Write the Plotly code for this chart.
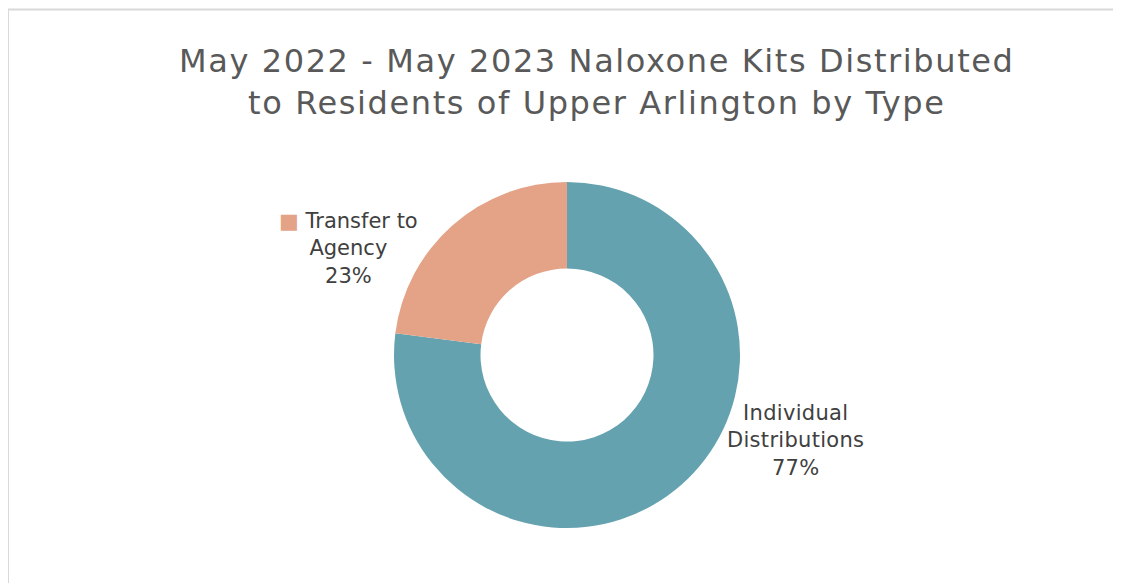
import plotly.graph_objects as go

labels = ["Individual Distributions", "Transfer to Agency"]
label_lines = ["Individual<br>Distributions", "Transfer to<br>Agency"]
values = [77, 23]
colors = ["#64A2AF", "#E4A386"]
title_lines = ["May 2022 - May 2023 Naloxone Kits Distributed",
               "to Residents of Upper Arlington by Type"]

W, H = 1121, 583
OFF = 8  # page body offset
FONT = "DejaVu Sans"


def px(x):
    return (x - OFF) / W


def py(y):
    return 1 - (y - OFF) / H


fig = go.Figure()
fig.add_trace(go.Pie(
    labels=labels, values=values, hole=0.5, sort=False,
    direction="clockwise", rotation=0,
    marker=dict(colors=colors, line=dict(width=0)),
    textinfo="none", hoverinfo="label+percent", showlegend=False,
    domain=dict(x=[px(394), px(740)], y=[py(528), py(182)]),
))

total = sum(values)
pct = [round(v / total * 100) for v in values]

sp = "<span style='letter-spacing:1.6px'>{}</span>"
title_text = "<br>".join(sp.format(t) for t in title_lines)
sp2 = "<span style='letter-spacing:0.3px'>{}</span>"

annotations = [
    dict(text=title_text, x=px(597), y=py(82), xref="paper", yref="paper",
         xanchor="center", yanchor="middle", showarrow=False,
         font=dict(family=FONT, size=32, color="#595959")),
    dict(text=sp2.format(f"{label_lines[0]}<br>{pct[0]}%"), x=px(795), y=py(440),
         xref="paper", yref="paper", xanchor="center", yanchor="middle",
         showarrow=False, align="center",
         font=dict(family=FONT, size=21, color="#404040")),
    dict(text=f"<span style='color:{colors[1]}'>■</span> {label_lines[1]}<br>{pct[1]}%",
         x=px(348), y=py(248),
         xref="paper", yref="paper", xanchor="center", yanchor="middle",
         showarrow=False, align="center",
         font=dict(family=FONT, size=21, color="#404040")),
]

fig.update_layout(
    width=W, height=H,
    margin=dict(l=0, r=0, t=0, b=0),
    paper_bgcolor="white", plot_bgcolor="white",
    annotations=annotations,
    shapes=[dict(type="rect", xref="paper", yref="paper",
                 x0=0, x1=1.05, y0=-0.05, y1=py(9.5),
                 line=dict(color="#D9D9D9", width=2), fillcolor="rgba(0,0,0,0)")],
)

fig.write_html("out.html")
